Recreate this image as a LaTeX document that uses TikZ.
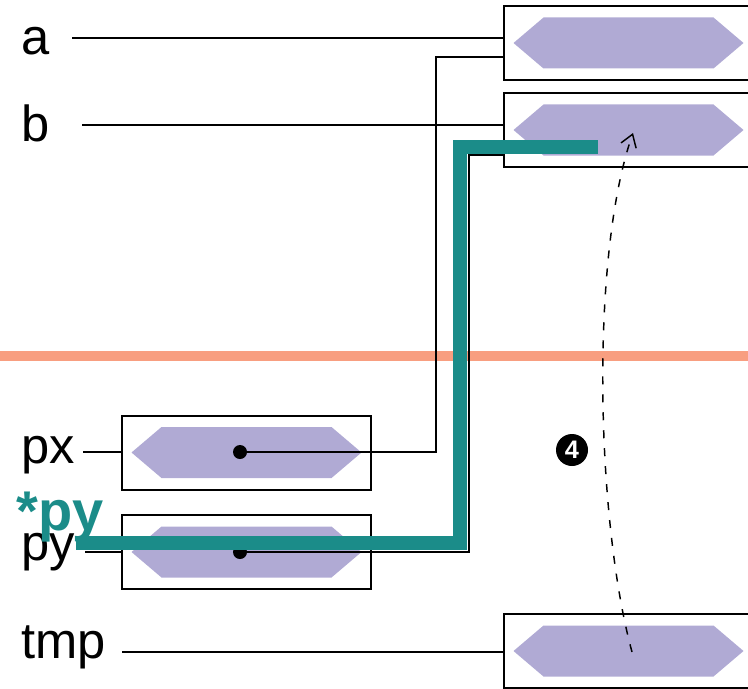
\documentclass[tikz,border=0pt]{standalone}
\usepackage{fontspec}
\setmainfont{Liberation Sans}
\usetikzlibrary{arrows.meta,calc}
\definecolor{hexfill}{RGB}{176,170,212}
\definecolor{ptrteal}{RGB}{27,140,137}
\definecolor{linesalmon}{RGB}{248,158,128}

\begin{document}
\begin{tikzpicture}[x=0.75pt,y=-0.75pt,
  cell/.style={rectangle,draw=black,line width=1.5pt,
               minimum width=186.75pt,minimum height=55.5pt,
               inner sep=0pt,outer sep=0pt},
  lbl/.style={anchor=base west,inner sep=0pt,
              font=\fontsize{38}{44}\selectfont},
  wire/.style={draw=black,line width=1.5pt},
  dot/.style={circle,fill=black,inner sep=0pt,minimum size=10.5pt},
  flow/.style={draw=black,line width=1.1pt,dash pattern=on 6pt off 7.5pt,
               -{Straight Barb[length=9pt,width=12pt]}},
  hexa/.pic={\fill[hexfill] (-115,0) -- (-85,-25.5) -- (85,-25.5)
             -- (115,0) -- (85,25.5) -- (-85,25.5) -- cycle;},
]
\useasboundingbox (0,0) rectangle (748,688);
\clip (0,0) rectangle (748,688);

% Separator
\draw[linesalmon,line width=7.5pt] (0,356) -- (748,356);

% Memory cells
\node[cell] (cella)   at (628.5,43)    {};
\node[cell] (cellb)   at (628.5,130)   {};
\node[cell] (celltmp) at (628.5,651)   {};
\node[cell] (cellpx)  at (246.5,452.5) {};
\node[cell] (cellpy)  at (246.5,552)   {};
\foreach \c in {cella,cellb,celltmp,cellpx,cellpy}
  \pic at (\c) {hexa};

% Variable names
\node[lbl] (la)   at (21,55)  {a};
\node[lbl] (lb)   at (21,142) {b};
\node[lbl] (lpx)  at (21,463) {px};
\node[lbl] (lpy)  at (21,560) {py};
\node[lbl] (ltmp) at (21,658) {tmp};

\coordinate (wa)   at (72,38);
\coordinate (wb)   at (82,125);
\coordinate (wpx)  at (83,452);
\coordinate (wpy)  at (85,552);
\coordinate (wtmp) at (122,652);
\draw[wire] (wa)   -- (wa -| cella.west);
\draw[wire] (wb)   -- (wb -| cellb.west);
\draw[wire] (wpx)  -- (wpx -| cellpx.west);
\draw[wire] (wpy)  -- (wpy -| cellpy.west);
\draw[wire] (wtmp) -- (wtmp -| celltmp.west);

% Pointers
\node[dot] (dpx) at (240,452) {};
\node[dot] (dpy) at (240,552) {};
\coordinate (pxin) at ($(cella.west)+(0,14)$);
\coordinate (pyin) at ($(cellb.west)+(0,25)$);
\draw[wire] (dpx.center) -| ($(pxin)+(-68,0)$) -- (pxin);
\draw[wire] (dpy.center) -| ($(pyin)+(-35,0)$) -- (pyin);

% *py
\node[anchor=base west,inner sep=0pt,text=ptrteal,
      font=\fontsize{42}{48}\bfseries\selectfont] (starpy) at (16,530) {*py};
\coordinate (tealfrom) at (76,543);
\coordinate (tealto)   at (598,147);
\draw[ptrteal,line width=10.5pt,line join=miter]
    (tealfrom) -| ($(tealto)+(-138,0)$) -- (tealto);

% Step 4: tmp -> b
\coordinate (src) at (632,652);
\coordinate (dst) at (633,133);
\draw[flow] (src) .. controls (596,520) and (590,255) .. (dst);
\node[circle,fill=black,minimum size=24pt,inner sep=0pt,text=white,
      font=\fontsize{19}{19}\bfseries\selectfont] (num4) at (572,450) {4};
\end{tikzpicture}
\end{document}
